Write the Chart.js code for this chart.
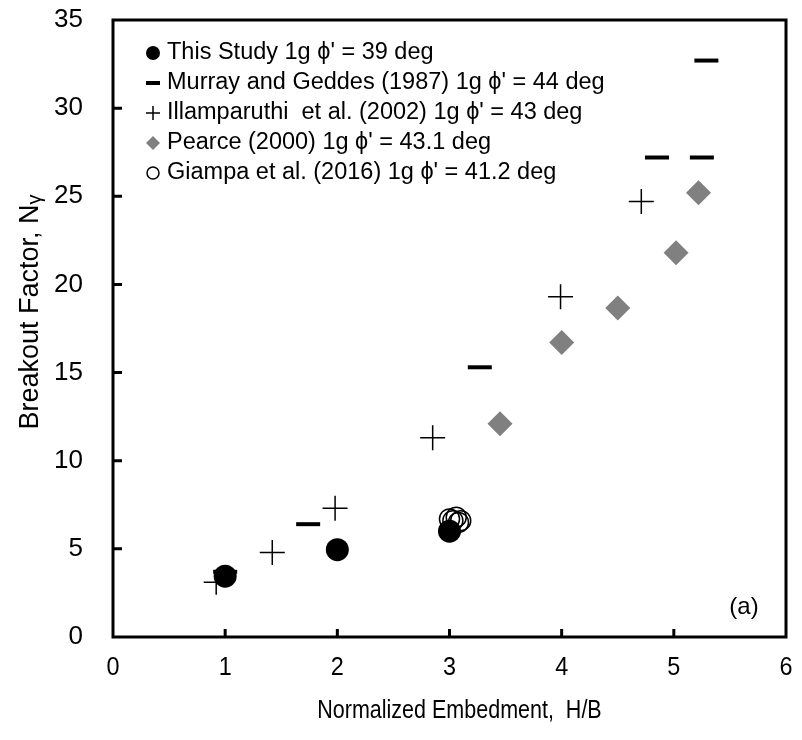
<!DOCTYPE html>
<html>
<head>
<meta charset="utf-8">
<script src="https://cdn.jsdelivr.net/npm/chart.js@4.4.1/dist/chart.umd.min.js"></script>
<style>
  body { margin: 0; background: #fff; }
  #wrap { width: 802px; height: 740px; position: relative; }
</style>
</head>
<body>
<div id="wrap"><canvas id="chart"></canvas></div>
<script>
// data (x = H/B, y = N_gamma)
const studyX = [1.0, 2.0, 3.0];
const studyY = [3.45, 4.95, 6.0];

const murrayX = [1.0, 1.74, 3.27, 4.85, 5.25, 5.29];
const murrayY = [3.7, 6.4, 15.3, 27.2, 27.2, 32.7];

const illamX = [0.92, 1.42, 1.98, 2.85, 3.99, 4.71];
const illamY = [3.1, 4.8, 7.3, 11.3, 19.3, 24.7];

const pearceX = [3.45, 4.0, 4.5, 5.02, 5.22];
const pearceY = [12.1, 16.7, 18.66, 21.8, 25.2];

const giampaX = [3.0, 3.03, 3.06, 3.08, 3.1];
const giampaY = [6.7, 6.6, 6.8, 6.5, 6.6];

const legendLabels = [
  "This Study 1g \u03d5' = 39 deg",
  "Murray and Geddes (1987) 1g \u03d5' = 44 deg",
  "Illamparuthi  et al. (2002) 1g \u03d5' = 43 deg",
  "Pearce (2000) 1g \u03d5' = 43.1 deg",
  "Giampa et al. (2016) 1g \u03d5' = 41.2 deg"
];

const xTicks = [0, 1, 2, 3, 4, 5, 6];
const yTicks = [0, 5, 10, 15, 20, 25, 30, 35];
const xTitle = 'Normalized Embedment,  H/B';

const FONT = "'Liberation Sans', Arial, sans-serif";

function pts(xs, ys) {
  return xs.map((x, i) => ({ x: x, y: ys[i] }));
}

// frame, inward ticks, legend, axis titles and panel tag
const framePlugin = {
  id: 'frame',
  afterDraw(chart) {
    const ctx = chart.ctx;
    const a = chart.chartArea;
    const xs = chart.scales.x, ys = chart.scales.y;
    ctx.save();
    ctx.strokeStyle = '#000';
    ctx.lineWidth = 3;
    ctx.strokeRect(a.left, a.top, a.right - a.left, a.bottom - a.top);

    ctx.beginPath();
    xTicks.slice(1, -1).forEach(v => {
      const px = xs.getPixelForValue(v);
      ctx.moveTo(px, a.bottom);
      ctx.lineTo(px, a.bottom - 8);
    });
    yTicks.slice(1, -1).forEach(v => {
      const py = ys.getPixelForValue(v);
      ctx.moveTo(a.left, py);
      ctx.lineTo(a.left + 9, py);
    });
    ctx.stroke();

    // x tick labels + x title, a little condensed like the original
    ctx.fillStyle = '#000';
    ctx.textAlign = 'center';
    ctx.textBaseline = 'middle';
    ctx.font = '26px ' + FONT;
    xTicks.forEach(v => {
      const px = xs.getPixelForValue(v);
      ctx.save();
      ctx.translate(px, a.bottom + 31);
      ctx.scale(0.9, 1);
      ctx.fillText(String(v), 0, 0);
      ctx.restore();
    });
    ctx.save();
    ctx.translate((a.left + a.right) / 2 + 10, 711);
    ctx.scale(0.86, 1);
    ctx.font = '25px ' + FONT;
    ctx.fillText(xTitle, 0, 0);
    ctx.restore();

    // legend
    ctx.font = '23.5px ' + FONT;
    ctx.textAlign = 'left';
    const mx = 153, tx = 167;
    legendLabels.forEach((lab, i) => {
      const y = 53 + i * 30;
      ctx.fillStyle = '#000';
      ctx.strokeStyle = '#000';
      if (i === 0) {
        ctx.beginPath(); ctx.arc(mx, y, 7, 0, Math.PI * 2); ctx.fill();
      } else if (i === 1) {
        ctx.lineWidth = 4;
        ctx.beginPath(); ctx.moveTo(mx - 7, y); ctx.lineTo(mx + 7, y); ctx.stroke();
      } else if (i === 2) {
        ctx.lineWidth = 1.5;
        ctx.beginPath();
        ctx.moveTo(mx - 7, y); ctx.lineTo(mx + 7, y);
        ctx.moveTo(mx, y - 7); ctx.lineTo(mx, y + 7);
        ctx.stroke();
      } else if (i === 3) {
        ctx.fillStyle = '#808080';
        ctx.beginPath();
        ctx.moveTo(mx, y - 7); ctx.lineTo(mx + 7, y); ctx.lineTo(mx, y + 7); ctx.lineTo(mx - 7, y);
        ctx.closePath(); ctx.fill();
      } else {
        ctx.lineWidth = 1.5;
        ctx.beginPath(); ctx.arc(mx, y, 6, 0, Math.PI * 2); ctx.stroke();
      }
      ctx.fillStyle = '#000';
      ctx.fillText(lab, tx, y);
    });

    ctx.font = '24px ' + FONT;
    ctx.textAlign = 'center';
    ctx.fillText('(a)', 744, 607);

    // y axis title with subscript gamma
    const main = 'Breakout Factor, N', sub = '\u03b3';
    ctx.font = '27px ' + FONT;
    const w1 = ctx.measureText(main).width;
    ctx.font = '20px ' + FONT;
    const w2 = ctx.measureText(sub).width;
    ctx.translate(38, 312 + (w1 + w2) / 2);
    ctx.rotate(-Math.PI / 2);
    ctx.textAlign = 'left';
    ctx.textBaseline = 'alphabetic';
    ctx.font = '27px ' + FONT;
    ctx.fillText(main, 0, 0);
    ctx.font = '20px ' + FONT;
    ctx.fillText(sub, w1, 3);
    ctx.restore();
  }
};

new Chart(document.getElementById('chart'), {
  type: 'scatter',
  data: {
    datasets: [
      {
        label: legendLabels[0],
        data: pts(studyX, studyY),
        pointStyle: 'circle',
        pointRadius: 11.5,
        backgroundColor: '#000',
        borderColor: '#000',
        borderWidth: 0
      },
      {
        label: legendLabels[1],
        data: pts(murrayX, murrayY),
        pointStyle: 'line',
        pointRadius: 12,
        borderColor: '#000',
        borderWidth: 4
      },
      {
        label: legendLabels[2],
        data: pts(illamX, illamY),
        pointStyle: 'cross',
        pointRadius: 12.5,
        borderColor: '#000',
        borderWidth: 1.5
      },
      {
        label: legendLabels[3],
        data: pts(pearceX, pearceY),
        pointStyle: 'rectRot',
        pointRadius: 12.5,
        backgroundColor: '#808080',
        borderColor: '#808080',
        borderWidth: 0
      },
      {
        label: legendLabels[4],
        data: pts(giampaX, giampaY),
        pointStyle: 'circle',
        pointRadius: 10,
        backgroundColor: 'rgba(0,0,0,0)',
        borderColor: '#000',
        borderWidth: 1.5
      }
    ]
  },
  options: {
    responsive: true,
    maintainAspectRatio: false,
    animation: false,
    layout: { padding: { top: 20, right: 15, left: 0, bottom: 0 } },
    plugins: {
      legend: { display: false },
      tooltip: { enabled: false }
    },
    scales: {
      x: {
        type: 'linear',
        min: 0,
        max: 6,
        afterBuildTicks: s => { s.ticks = xTicks.map(v => ({ value: v })); },
        afterFit: s => { s.height = 103; s.paddingLeft = 0; s.paddingRight = 0; },
        grid: { display: false, drawTicks: false, tickLength: 0 },
        border: { display: false },
        ticks: { display: false },
        title: { display: false }
      },
      y: {
        type: 'linear',
        min: 0,
        max: 35,
        afterBuildTicks: s => { s.ticks = yTicks.map(v => ({ value: v })); },
        afterFit: s => { s.width = 113; s.paddingTop = 0; s.paddingBottom = 0; },
        grid: { display: false, drawTicks: false, tickLength: 0 },
        border: { display: false },
        ticks: { color: '#000', padding: 30, font: { family: FONT, size: 26 } },
        title: { display: false }
      }
    }
  },
  plugins: [framePlugin]
});
</script>
</body>
</html>
